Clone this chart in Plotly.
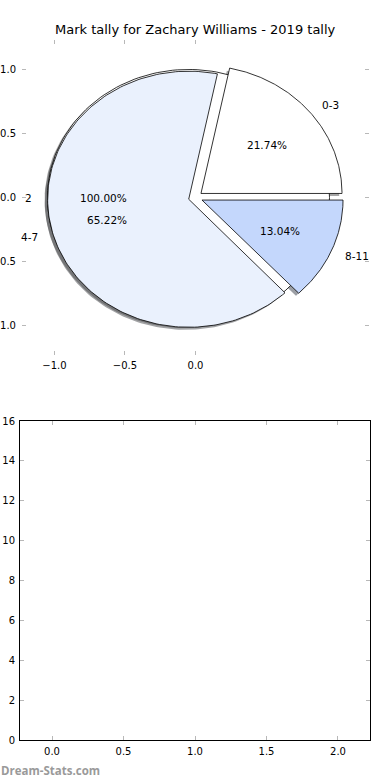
import numpy as np
import plotly.graph_objects as go

# ---------------- data ----------------
title_text = "Mark tally for Zachary Williams - 2019 tally"
labels = ["0-3", "4-7", "8-11"]
values = [5, 15, 3]
colors = ["#ffffff", "#eaf1fd", "#c4d7fc"]
ghost_labels = ["2"]          # leftover single-slice pie drawn underneath
ghost_values = [1]
ghost_colors = ["#ffffff"]
explode = 0.05
pie_xticks = [-1.0, -0.5, 0.0]
pie_yticks = [-1.0, -0.5, 0.0, 0.5, 1.0]
low_xticks = [0.0, 0.5, 1.0, 1.5, 2.0]
low_yticks = [0, 2, 4, 6, 8, 10, 12, 14, 16]

W, H = 390, 780
FONT = "DejaVu Sans"
TICKGREY = "#b8b8b8"
SHADOW = -0.02


def fmt(v):
    s = f"{abs(v):.1f}"
    return ("\u2212" + s) if v < 0 else s


def wedges(vals, start=0.0):
    tot = float(sum(vals))
    out = []
    t1 = start
    for v in vals:
        t2 = t1 + 360.0 * v / tot
        mid = np.deg2rad((t1 + t2) / 2)
        cx, cy = explode * np.cos(mid), explode * np.sin(mid)
        out.append((t1, t2, mid, cx, cy, 100.0 * v / tot))
        t1 = t2
    return out


def wedge_xy(t1, t2, cx, cy):
    th = np.deg2rad(np.linspace(t1, t2, 180))
    if abs(t2 - t1) >= 359.999:
        return cx + np.cos(th), cy + np.sin(th)
    xs = np.concatenate([[cx], cx + np.cos(th), [cx]])
    ys = np.concatenate([[cy], cy + np.sin(th), [cy]])
    return xs, ys


def shade(hexcol):
    h = hexcol.lstrip("#")
    r, g, b = (int(h[i:i + 2], 16) for i in (0, 2, 4))
    return f"rgba({int(r * 0.3)},{int(g * 0.3)},{int(b * 0.3)},0.5)"


fig = go.Figure()

ghost = wedges(ghost_values)
pie = wedges(values)

# shadows first (beneath all wedges)
for w, cols in ((ghost, ghost_colors), (pie, colors)):
    for (t1, t2, mid, cx, cy, pct), col in zip(w, cols):
        xs, ys = wedge_xy(t1, t2, cx, cy)
        fig.add_trace(go.Scatter(x=xs + SHADOW, y=ys + SHADOW, mode="lines",
                                 fill="toself", fillcolor=shade(col),
                                 line=dict(width=0), hoverinfo="skip",
                                 showlegend=False, xaxis="x", yaxis="y"))

# wedges: ghost pie first, then the real pie on top
for w, labs, cols in ((ghost, ghost_labels, ghost_colors), (pie, labels, colors)):
    for (t1, t2, mid, cx, cy, pct), lab, col in zip(w, labs, cols):
        xs, ys = wedge_xy(t1, t2, cx, cy)
        fig.add_trace(go.Scatter(x=xs, y=ys, mode="lines", fill="toself",
                                 fillcolor=col, line=dict(color="black", width=0.8),
                                 name=lab, showlegend=False, xaxis="x", yaxis="y"))

annotations = []


def add_pie_texts(w, labs):
    for (t1, t2, mid, cx, cy, pct), lab in zip(w, labs):
        lx = cx + 1.1 * np.cos(mid)
        ly = cy + 1.1 * np.sin(mid)
        annotations.append(dict(x=lx, y=ly, xref="x", yref="y", text=lab,
                                showarrow=False,
                                xanchor="left" if lx > 0 else "right",
                                yanchor="middle", borderpad=0,
                                font=dict(family=FONT, size=10.5, color="black")))
        px = cx + 0.6 * np.cos(mid)
        py = cy + 0.6 * np.sin(mid)
        annotations.append(dict(x=px, y=py, xref="x", yref="y", text=f"{pct:.2f}%",
                                showarrow=False, xanchor="center", yanchor="middle",
                                font=dict(family=FONT, size=10.5, color="black")))


add_pie_texts(ghost, ghost_labels)
add_pie_texts(pie, labels)

# empty lower axes (invisible placeholder trace)
fig.add_trace(go.Scatter(x=[None], y=[None], mode="markers", showlegend=False,
                         xaxis="x2", yaxis="y2"))

annotations.append(dict(x=0.5, y=1 - 30 / H, xref="paper", yref="paper",
                        text=title_text, showarrow=False, xanchor="center",
                        yanchor="middle",
                        font=dict(family=FONT, size=13, color="black")))
annotations.append(dict(x=-0.002, y=1 - 770 / H, xref="paper", yref="paper",
                        text="<b>Dream-Stats.com</b>", showarrow=False,
                        xanchor="left", yanchor="middle",
                        font=dict(family="Open Sans", size=11.5, color="#9a9a9a")))

common_tick = dict(ticks="inside", ticklen=4, tickwidth=1, tickcolor=TICKGREY,
                   showgrid=False, zeroline=False,
                   tickfont=dict(family=FONT, size=10, color="black"),
                   automargin=False, fixedrange=True)

fig.update_layout(
    width=W, height=H,
    margin=dict(l=0, r=0, t=0, b=0),
    paper_bgcolor="white", plot_bgcolor="white",
    showlegend=False,
    annotations=annotations,
    xaxis=dict(domain=[22 / W, 369 / W], range=[-1.23, 1.23],
               tickmode="array", tickvals=pie_xticks,
               ticktext=[fmt(v) for v in pie_xticks], ticklabelstandoff=3,
               showline=False, mirror="ticks", anchor="y", **common_tick),
    yaxis=dict(domain=[1 - 355 / H, 1 - 40 / H], range=[-1.23, 1.23],
               tickmode="array", tickvals=pie_yticks,
               ticktext=[fmt(v) for v in pie_yticks], ticklabelstandoff=5,
               showline=False, mirror="ticks", anchor="x", **common_tick),
    xaxis2=dict(domain=[20 / W, 370 / W], range=[-0.224, 2.224],
                tickmode="array", tickvals=low_xticks,
                ticktext=[fmt(v) for v in low_xticks], ticklabelstandoff=2,
                showline=True, linecolor="black", linewidth=1,
                mirror="ticks", anchor="y2", **common_tick),
    yaxis2=dict(domain=[1 - 740 / H, 1 - 421 / H], range=[0, 16],
                tickmode="array", tickvals=low_yticks,
                ticktext=[str(v) for v in low_yticks], ticklabelstandoff=2,
                showline=True, linecolor="black", linewidth=1,
                mirror="ticks", anchor="x2", **common_tick),
)

fig.write_html("out.html",
               config={"displayModeBar": False, "staticPlot": True},
               post_script="document.body.style.margin='0px';"
                           "document.body.style.padding='0px';")
